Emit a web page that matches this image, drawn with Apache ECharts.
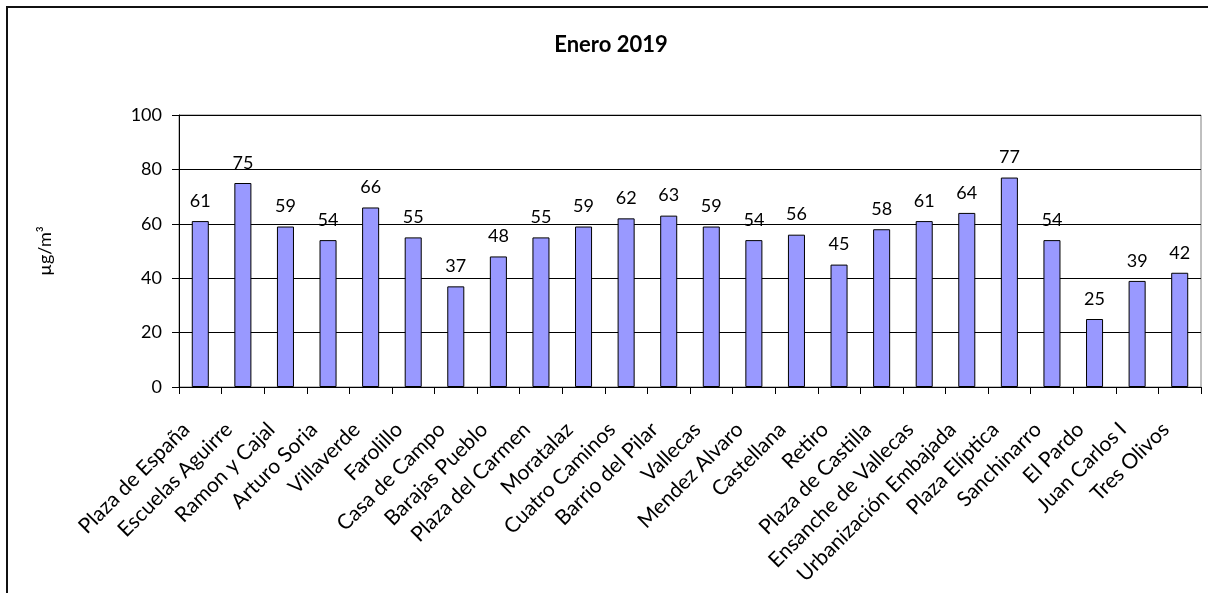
<!DOCTYPE html>
<html>
<head>
<meta charset="utf-8">
<script src="https://cdn.jsdelivr.net/npm/echarts@6/dist/echarts.min.js"></script>
<style>
html,body{margin:0;padding:0;background:#fff;}
#chart{width:1208px;height:593px;}
</style>
</head>
<body>
<div id="chart"></div>
<script>
const titleText = 'Enero 2019';
const yAxisName = 'µg/m³';
const categories = ['Plaza de España','Escuelas Aguirre','Ramon y Cajal','Arturo Soria','Villaverde','Farolillo','Casa de Campo','Barajas Pueblo','Plaza del Carmen','Moratalaz','Cuatro Caminos','Barrio del Pilar','Vallecas','Mendez Alvaro','Castellana','Retiro','Plaza de Castilla','Ensanche de Vallecas','Urbanización Embajada','Plaza Elíptica','Sanchinarro','El Pardo','Juan Carlos I','Tres Olivos'];
const values = [61,75,59,54,66,55,37,48,55,59,62,63,59,54,56,45,58,61,64,77,54,25,39,42];
const yTicks = [0,20,40,60,80,100];

const FONT = 'Lato, "Open Sans", sans-serif';
const chart = echarts.init(document.getElementById('chart'), null, {renderer:'canvas'});
chart.setOption({
  backgroundColor:'#fff',
  animation:false,
  graphic:[
    {type:'rect', shape:{x:7,y:7,width:1300,height:700}, style:{fill:'none',stroke:'#111',lineWidth:2}, z:-1},
    {type:'text', x:611, y:45, style:{text:titleText, font:'bold 22px '+FONT, fill:'#000', align:'center', verticalAlign:'middle', textAlign:'center', textVerticalAlign:'middle'}}
  ],
  grid:{left:179, right:7, top:115, bottom:206, show:true, borderColor:'#808080', borderWidth:1},
  xAxis:{
    type:'category', data:categories,
    axisLine:{show:true, lineStyle:{color:'#000',width:1}},
    axisTick:{show:true, alignWithLabel:false, length:7, lineStyle:{color:'#000'}},
    axisLabel:{interval:0, rotate:45, margin:25, padding:[0,20,0,0], fontSize:21, fontFamily:FONT, color:'#000'}
  },
  yAxis:{
    type:'value', min:0, max:100, interval:20,
    name:yAxisName, nameLocation:'middle', nameGap:125, nameRotate:90,
    nameTextStyle:{fontSize:18, fontFamily:FONT, color:'#000'},
    axisLine:{show:true, lineStyle:{color:'#000'}},
    axisTick:{show:true, length:7, lineStyle:{color:'#000'}},
    axisLabel:{margin:17, fontSize:18, fontFamily:FONT, color:'#000',
      formatter:function(v){return yTicks.indexOf(v)>=0 ? String(v) : '';}},
    splitLine:{show:true, lineStyle:{color:'#000', width:1}}
  },
  series:[{
    type:'bar', data:values, barWidth:'40%',
    itemStyle:{color:'#9999FF', borderColor:'#000', borderWidth:1},
    label:{show:true, position:'top', distance:11, fontSize:18, fontFamily:FONT, color:'#000'}
  }]
});
</script>
</body>
</html>
